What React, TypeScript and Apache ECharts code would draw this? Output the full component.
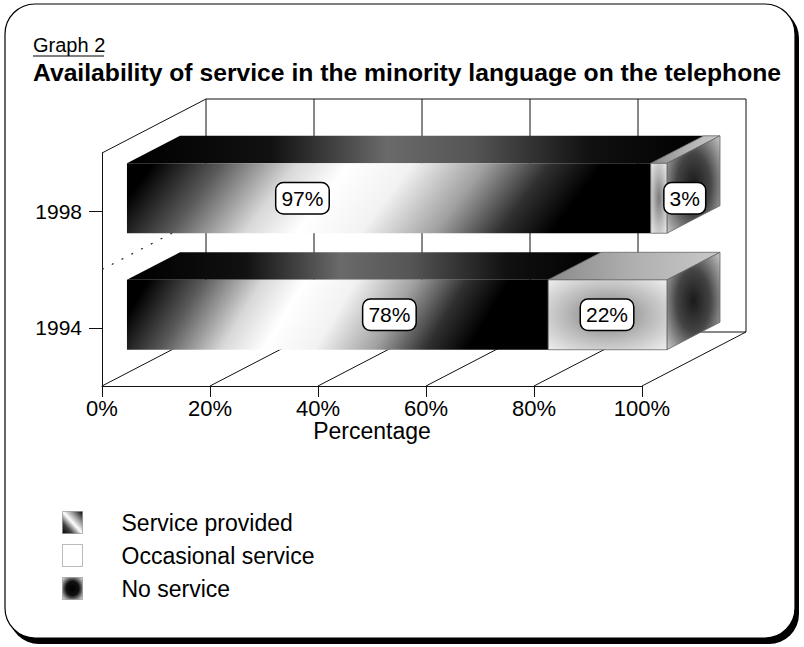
import React, { useEffect, useRef } from 'react';
import * as echarts from 'echarts';

// ---------- data ----------
const CATEGORIES = ['1994', '1998'];
const SERVICE_PROVIDED = [78, 97];
const OCCASIONAL_SERVICE = [0, 0];
const NO_SERVICE = [22, 3];
const SERIES_NAMES = ['Service provided', 'Occasional service', 'No service'];
const X_TICKS = [0, 20, 40, 60, 80, 100];

// ---------- layout / style ----------
const FONT = '"Liberation Sans", Arial, Helvetica, sans-serif';
const DEPTH_X = 104;
const DEPTH_Y = -54;
const BAR_FRONT = 0.24;
const BAR_BACK = 0.75;
const BAR_RATIO = 0.6;
// where each data label sits along the value axis
const LABEL_X = [
  [48.6, 32.5],
  [0, 0],
  [88.9, 103.3],
];

const lin = (x0: number, y0: number, x1: number, y1: number, stops: [number, string][]) =>
  new echarts.graphic.LinearGradient(x0, y0, x1, y1, stops.map(([offset, color]) => ({ offset, color })));
const rad = (r: number, stops: [number, string][]) =>
  new echarts.graphic.RadialGradient(0.5, 0.5, r, stops.map(([offset, color]) => ({ offset, color })));

const STYLES: any = {
  service: {
    front: () =>
      lin(0, 0, 1, 0.1, [
        [0, '#000'], [0.05, '#000'], [0.18, '#5a5a5a'], [0.32, '#d8d8d8'], [0.42, '#fff'],
        [0.54, '#f2f2f2'], [0.68, '#a0a0a0'], [0.8, '#303030'], [0.9, '#000'], [1, '#000'],
      ]),
    top: () =>
      lin(0, 0, 1, 0, [[0, '#000'], [0.25, '#111'], [0.45, '#6a6a6a'], [0.6, '#555'], [0.8, '#111'], [1, '#000']]),
    side: () => '#000',
    stroke: 'none',
  },
  occasional: {
    front: () => '#fff',
    top: () => '#f4f4f4',
    side: () => '#e8e8e8',
    stroke: '#555',
  },
  none: {
    front: () => rad(0.7, [[0, '#7a7a7a'], [0.5, '#b8b8b8'], [1, '#eeeeee']]),
    top: () => lin(0, 0, 1, 0, [[0, '#8a8a8a'], [0.5, '#b0b0b0'], [1, '#c8c8c8']]),
    side: () => rad(0.7, [[0, '#1a1a1a'], [0.45, '#444'], [1, '#c8c8c8']]),
    stroke: '#666',
  },
};

const LEGEND_COLORS = [
  lin(0, 1, 1, 0, [[0, '#000'], [0.25, '#444'], [0.5, '#fff'], [0.72, '#999'], [1, '#000']]),
  '#ffffff',
  rad(0.65, [[0, '#000'], [0.5, '#111'], [1, '#d0d0d0']]),
];

function buildData(k: number) {
  const all = [SERVICE_PROVIDED, OCCASIONAL_SERVICE, NO_SERVICE];
  return CATEGORIES.map((_, i) => {
    let start = 0;
    for (let j = 0; j < k; j++) start += all[j][i];
    const end = start + all[k][i];
    return [start, end, i, LABEL_X[k][i], all[k][i]];
  });
}

function makeBar(kind: string) {
  const st = STYLES[kind];
  return (params: any, api: any) => {
    const start = api.value(0);
    const end = api.value(1);
    const cat = api.value(2);
    const lx = api.value(3);
    const v = api.value(4);
    if (!(end - start > 0)) return null;
    const band = api.size([0, 1])[1];
    const h = band * BAR_RATIO;
    const p0 = api.coord([start, cat]);
    const p1 = api.coord([end, cat]);
    const fx = DEPTH_X * BAR_FRONT;
    const fy = DEPTH_Y * BAR_FRONT;
    const bx = DEPTH_X * (BAR_BACK - BAR_FRONT);
    const by = DEPTH_Y * (BAR_BACK - BAR_FRONT);
    const x0 = p0[0] + fx;
    const x1 = p1[0] + fx;
    const yc = p0[1] + fy;
    const yt = yc - h / 2;
    const yb = yc + h / 2;
    const lp = api.coord([lx, cat]);
    const stroke = st.stroke;
    const lw = stroke === 'none' ? 0 : 0.8;
    return {
      type: 'group',
      children: [
        {
          type: 'polygon',
          shape: { points: [[x0, yt], [x1, yt], [x1 + bx, yt + by], [x0 + bx, yt + by]] },
          style: { fill: st.top(), stroke, lineWidth: lw },
        },
        {
          type: 'polygon',
          shape: { points: [[x1, yt], [x1 + bx, yt + by], [x1 + bx, yb + by], [x1, yb]] },
          style: { fill: st.side(), stroke, lineWidth: lw },
        },
        {
          type: 'rect',
          shape: { x: x0, y: yt, width: x1 - x0, height: h },
          style: { fill: st.front(), stroke, lineWidth: lw },
        },
        {
          type: 'text',
          x: lp[0] + fx,
          y: yc,
          z2: 20,
          style: {
            text: v + '%',
            font: '21px ' + FONT,
            fill: '#000',
            align: 'center',
            verticalAlign: 'middle',
            backgroundColor: '#fff',
            borderColor: '#000',
            borderWidth: 1.5,
            borderRadius: 7,
            padding: [5, 5, 4, 5],
          },
        },
      ],
    };
  };
}

function renderFrame(params: any, api: any) {
  const band = api.size([0, 1])[1];
  const yBottom = api.coord([0, 0])[1] + band / 2;
  const yTop = api.coord([0, CATEGORIES.length - 1])[1] - band / 2;
  const xs = X_TICKS.map((t) => api.coord([t, 0])[0]);
  const x0 = xs[0];
  const xN = xs[xs.length - 1];
  const ls = { stroke: '#111', lineWidth: 1, fill: 'none' };
  const children: any[] = [];
  xs.forEach((px) => {
    children.push({ type: 'line', shape: { x1: px, y1: yBottom, x2: px + DEPTH_X, y2: yBottom + DEPTH_Y }, style: ls });
    children.push({ type: 'line', shape: { x1: px + DEPTH_X, y1: yBottom + DEPTH_Y, x2: px + DEPTH_X, y2: yTop + DEPTH_Y }, style: ls });
  });
  children.push({ type: 'line', shape: { x1: x0 + DEPTH_X, y1: yTop + DEPTH_Y, x2: xN + DEPTH_X, y2: yTop + DEPTH_Y }, style: ls });
  children.push({ type: 'line', shape: { x1: x0 + DEPTH_X, y1: yBottom + DEPTH_Y, x2: xN + DEPTH_X, y2: yBottom + DEPTH_Y }, style: ls });
  children.push({ type: 'line', shape: { x1: x0, y1: yTop, x2: x0 + DEPTH_X, y2: yTop + DEPTH_Y }, style: ls });
  for (let i = 0; i < CATEGORIES.length - 1; i++) {
    const yb = (api.coord([0, i])[1] + api.coord([0, i + 1])[1]) / 2;
    children.push({
      type: 'line',
      shape: { x1: x0, y1: yb, x2: x0 + DEPTH_X, y2: yb + DEPTH_Y },
      style: { stroke: '#222', lineWidth: 1.2, lineDash: [2, 9], fill: 'none' },
    });
  }
  return { type: 'group', children };
}

export default function App() {
  const ref = useRef<HTMLDivElement>(null);
  useEffect(() => {
    if (!ref.current) return;
    const chart = echarts.init(ref.current, undefined, { renderer: 'svg' });
    const barSeries = SERIES_NAMES.map((name, k) => ({
      type: 'custom',
      name,
      z: 3,
      itemStyle: { color: LEGEND_COLORS[k] },
      data: buildData(k),
      encode: { x: [0, 1], y: 2 },
      renderItem: makeBar(['service', 'occasional', 'none'][k]),
    }));
    chart.setOption({
      animation: false,
      backgroundColor: 'transparent',
      graphic: [
        { type: 'rect', z: -10, silent: true, shape: { x: 9, y: 8, width: 790, height: 636, r: 30 }, style: { fill: '#000' } },
        { type: 'rect', z: -9, silent: true, shape: { x: 5, y: 4, width: 790, height: 634, r: 30 }, style: { fill: '#fff', stroke: '#000', lineWidth: 1.2 } },
        { type: 'text', z: 5, left: 33, top: 35, style: { text: 'Graph 2', font: '20px ' + FONT, fill: '#000' } },
        { type: 'line', z: 5, shape: { x1: 33, y1: 56, x2: 104, y2: 56 }, style: { stroke: '#000', lineWidth: 1 } },
      ],
      title: {
        text: 'Availability of service in the minority language on the telephone',
        left: 33,
        top: 60,
        padding: 0,
        textStyle: { fontFamily: FONT, fontSize: 24.7, fontWeight: 'bold', color: '#000' },
      },
      legend: {
        orient: 'vertical',
        left: 62,
        top: 511,
        padding: 0,
        itemWidth: 20,
        itemHeight: 22,
        itemGap: 10,
        icon: 'rect',
        selectedMode: false,
        itemStyle: { borderColor: '#777', borderWidth: 1, borderType: 'dotted' },
        textStyle: { fontFamily: FONT, fontSize: 23, color: '#000', padding: [0, 0, 0, 34] },
        data: SERIES_NAMES,
      },
      grid: { left: 102, right: 162, top: 153, bottom: 261 },
      xAxis: {
        type: 'value',
        min: 0,
        max: 100,
        interval: 20,
        name: 'Percentage',
        nameLocation: 'middle',
        nameGap: 33,
        nameTextStyle: { fontFamily: FONT, fontSize: 23, color: '#000' },
        axisLine: { show: true, lineStyle: { color: '#111', width: 1 } },
        axisTick: { show: true, length: 11, lineStyle: { color: '#111' } },
        axisLabel: { formatter: '{value}%', margin: 11, fontFamily: FONT, fontSize: 22, color: '#000' },
        splitLine: { show: false },
      },
      yAxis: {
        type: 'category',
        data: CATEGORIES,
        axisLine: { show: true, lineStyle: { color: '#111', width: 1 } },
        axisTick: { show: true, alignWithLabel: true, length: 13, lineStyle: { color: '#111' } },
        axisLabel: { margin: 20, fontFamily: FONT, fontSize: 21, color: '#000' },
        splitLine: { show: false },
      },
      series: [
        {
          type: 'custom',
          name: 'frame',
          z: 1,
          silent: true,
          data: [[0, 0]],
          encode: { x: 0, y: 1 },
          renderItem: renderFrame,
        },
        ...barSeries,
      ],
    });
    return () => chart.dispose();
  }, []);
  return <div ref={ref} style={{ position: 'absolute', left: 0, top: 0, width: 804, height: 647 }} />;
}
